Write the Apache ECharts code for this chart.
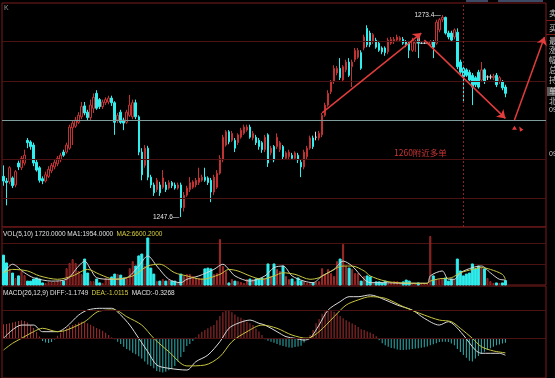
<!DOCTYPE html>
<html>
<head>
<meta charset="utf-8">
<script src="https://cdn.jsdelivr.net/npm/echarts/dist/echarts.min.js"></script>
<style>
  html, body { margin: 0; padding: 0; background: #000; }
  #chart { width: 555px; height: 378px; }
</style>
</head>
<body>
<div id="chart"></div>
<script>
// empty slots after the last bar leave room for the drawn arrows
const slotCount = 181;
const categories = Array.from({ length: slotCount }, (_, i) => 'T' + i);

// [open, close, low, high]
const candles = [
  [1252.8,1252.2,1251.6,1254.2],[1252.2,1252.0,1249.1,1252.6],[1252.1,1253.9,1251.8,1254.1],[1252.6,1251.6,1251.3,1252.8],
  [1251.7,1253.4,1251.4,1253.6],[1254.5,1254.0,1253.6,1254.8],[1253.9,1255.1,1253.6,1255.4],[1254.5,1255.5,1254.2,1256.2],
  [1257.4,1257.1,1256.4,1257.7],[1257.2,1256.6,1256.2,1257.4],[1256.8,1254.5,1254.1,1257.1],[1254.6,1253.6,1253.4,1254.9],
  [1253.9,1252.3,1252.0,1254.1],[1252.5,1252.2,1251.8,1252.8],[1252.2,1253.0,1252.0,1253.4],[1252.8,1253.7,1252.6,1254.1],
  [1253.5,1254.2,1253.2,1254.5],[1254.0,1254.6,1253.7,1255.0],[1254.4,1255.1,1254.1,1255.4],[1254.9,1255.5,1254.6,1255.8],
  [1255.9,1255.5,1255.3,1256.2],[1255.9,1256.8,1255.7,1257.1],[1256.4,1259.1,1256.2,1259.4],[1259.0,1259.6,1256.8,1259.9],
  [1259.2,1260.0,1259.0,1260.4],[1259.7,1260.6,1259.5,1261.0],[1260.4,1261.7,1260.1,1262.3],[1261.8,1260.9,1260.6,1262.3],
  [1261.0,1260.3,1260.0,1261.3],[1260.3,1261.9,1260.0,1262.6],[1261.5,1262.9,1260.9,1263.4],[1263.4,1261.5,1261.3,1263.8],
  [1262.6,1261.7,1261.4,1262.8],[1261.7,1262.3,1261.4,1262.6],[1262.2,1262.6,1261.9,1262.9],[1262.3,1262.8,1262.0,1263.1],
  [1262.8,1262.2,1261.8,1263.1],[1262.2,1259.7,1258.1,1262.4],[1260.0,1260.6,1259.6,1260.9],[1261.0,1259.7,1259.5,1261.3],
  [1260.0,1259.6,1258.7,1260.3],[1259.7,1261.0,1259.5,1261.3],[1260.6,1261.9,1260.4,1263.2],[1260.4,1262.2,1260.1,1262.6],
  [1262.2,1260.4,1260.1,1262.6],[1260.4,1255.9,1255.5,1260.6],[1255.9,1253.0,1252.3,1256.4],[1254.2,1256.4,1253.9,1256.8],
  [1256.4,1252.7,1252.3,1256.7],[1252.7,1251.7,1251.3,1253.0],[1251.7,1250.7,1250.3,1252.0],[1251.1,1252.3,1250.8,1252.6],
  [1251.7,1250.7,1250.3,1252.1],[1251.4,1252.6,1251.2,1253.6],[1251.7,1251.1,1250.8,1252.1],[1251.3,1252.0,1251.1,1252.3],
  [1252.0,1251.6,1251.3,1252.2],[1251.7,1251.3,1251.1,1252.0],[1251.3,1251.7,1251.1,1252.0],[1251.7,1248.8,1247.6,1252.0],
  [1248.8,1250.4,1248.3,1250.8],[1250.4,1251.3,1250.2,1251.6],[1251.1,1252.0,1250.8,1252.7],[1251.4,1252.1,1251.2,1252.3],
  [1251.7,1252.3,1251.4,1252.6],[1252.0,1252.6,1251.7,1253.9],[1252.3,1252.7,1252.1,1253.0],[1252.7,1252.3,1252.1,1253.9],
  [1252.6,1252.0,1251.7,1252.8],[1252.3,1250.8,1249.5,1252.6],[1250.8,1252.7,1250.4,1253.0],[1251.4,1253.2,1251.2,1253.6],
  [1253.2,1255.1,1253.0,1255.5],[1254.9,1257.8,1254.6,1258.1],[1256.8,1258.5,1256.6,1258.7],[1258.5,1257.2,1256.9,1258.7],
  [1257.4,1258.3,1257.2,1258.6],[1257.4,1256.4,1255.9,1257.7],[1257.1,1258.1,1256.8,1258.3],[1257.8,1258.7,1257.6,1259.0],
  [1258.3,1259.1,1258.1,1259.4],[1258.7,1259.1,1258.5,1259.4],[1259.1,1257.8,1257.6,1259.4],[1257.7,1258.3,1257.4,1258.6],
  [1257.8,1257.1,1256.8,1258.1],[1257.4,1256.6,1256.2,1257.7],[1257.1,1256.2,1255.8,1257.3],[1256.2,1257.8,1255.9,1258.1],
  [1258.1,1254.5,1254.0,1258.3],[1255.8,1256.4,1255.5,1256.7],[1256.6,1254.9,1254.6,1256.8],[1256.6,1257.8,1256.3,1258.3],
  [1256.2,1257.1,1255.9,1257.3],[1256.6,1255.3,1254.9,1256.8],[1255.1,1255.8,1254.9,1256.0],[1255.3,1255.9,1255.0,1256.2],
  [1255.5,1255.1,1254.9,1255.8],[1255.1,1255.8,1254.9,1256.0],[1255.5,1254.9,1254.5,1255.8],[1254.6,1254.0,1252.7,1254.9],
  [1254.0,1255.9,1253.7,1256.2],[1255.3,1256.4,1255.0,1256.7],[1256.4,1257.7,1256.2,1258.0],[1257.7,1256.6,1256.3,1258.0],
  [1257.8,1257.8,1257.4,1258.5],[1257.7,1258.3,1257.4,1258.6],[1258.1,1260.6,1257.8,1260.9],[1260.6,1261.9,1260.4,1262.2],
  [1261.9,1263.4,1261.7,1263.8],[1263.6,1264.9,1263.3,1265.1],[1264.9,1266.6,1264.6,1267.0],[1266.0,1266.6,1265.7,1266.9],
  [1266.6,1265.4,1265.1,1267.9],[1265.1,1266.8,1264.9,1267.0],[1266.4,1267.4,1266.1,1267.7],[1267.4,1265.7,1265.5,1267.9],
  [1266.8,1267.4,1264.2,1267.7],[1267.7,1268.9,1267.4,1269.2],[1268.0,1268.9,1267.8,1269.2],[1268.6,1266.6,1266.4,1268.9],
  [1269.2,1270.6,1268.9,1270.9],[1271.7,1269.6,1269.3,1272.1],[1271.1,1269.6,1269.3,1271.4],[1270.0,1270.9,1269.7,1271.1],
  [1270.2,1269.3,1269.1,1270.5],[1269.8,1268.9,1268.7,1270.1],[1269.2,1268.7,1268.4,1269.4],[1269.2,1268.6,1268.2,1269.4],
  [1268.7,1270.2,1268.4,1270.5],[1269.8,1270.3,1269.6,1270.6],[1270.0,1270.3,1269.7,1270.6],[1270.2,1270.6,1270.0,1270.9],
  [1270.2,1270.5,1270.0,1270.7],[1270.3,1269.8,1269.6,1270.6],[1270.0,1269.6,1269.3,1270.2],[1269.8,1268.9,1267.9,1270.1],
  [1268.9,1270.2,1268.7,1270.5],[1269.8,1270.0,1268.7,1270.2],[1270.6,1269.8,1267.9,1270.9],[1269.8,1269.8,1269.7,1269.9],
  [1269.8,1269.8,1269.7,1269.9],[1269.8,1269.8,1269.7,1269.9],[1269.6,1270.0,1269.3,1270.2],[1270.0,1269.3,1267.9,1270.2],
  [1269.8,1272.5,1269.6,1272.8],[1271.5,1272.8,1271.2,1273.0],[1272.8,1273.1,1272.5,1273.4],[1273.1,1271.1,1270.9,1273.2],
  [1271.1,1270.6,1270.3,1271.4],[1271.1,1270.2,1270.0,1271.4],[1270.6,1271.5,1270.3,1271.7],[1271.2,1266.8,1266.5,1271.7],
  [1267.4,1266.1,1265.9,1267.7],[1266.6,1265.5,1262.2,1266.9],[1266.4,1265.7,1265.5,1266.6],[1266.1,1265.1,1264.9,1266.4],
  [1265.7,1264.2,1261.9,1266.0],[1265.4,1264.5,1264.2,1265.6],[1266.1,1264.2,1264.0,1266.4],[1265.1,1266.4,1264.9,1267.4],
  [1266.4,1264.9,1264.6,1266.6],[1265.5,1265.5,1265.1,1265.7],[1265.5,1265.5,1265.2,1265.8],[1265.4,1265.6,1265.1,1265.9],
  [1265.7,1264.5,1264.2,1266.0],[1264.9,1265.4,1264.6,1265.6],[1264.9,1264.1,1263.8,1265.1],[1264.2,1263.4,1262.9,1264.5]
];

const volumes = [
  11500,8500,6200,4600,2700,3500,5400,3800,1500,1500,
  2300,2700,2300,800,800,1200,1200,1200,1500,1500,
  1500,6500,8500,10000,8500,5400,4200,10000,4600,1500,
  1500,2300,800,800,2700,2300,3100,4200,4200,3800,
  2700,2700,6500,9200,7300,11200,11900,7300,18100,6500,
  4200,1500,1500,2300,1500,1900,1500,1500,1200,4200,
  3500,4200,4200,3500,2700,2700,2700,6200,6500,6200,
  4200,4600,17700,7300,5400,800,2300,1500,1500,1200,
  800,2300,2300,2300,2300,2300,2700,2700,8100,3500,
  8100,6200,5400,7300,3500,2300,2300,1500,2700,1500,
  1500,800,800,800,1200,1500,6500,4200,6200,4600,
  3500,9200,10000,15800,7300,6500,6200,4600,4600,1500,
  3500,3500,3100,800,1200,1200,800,1500,800,1200,
  1500,1500,800,1200,1900,1500,800,800,800,400,
  400,400,18900,3500,2300,2300,2700,2700,1500,2300,
  2300,10000,5400,3500,4200,4600,8100,6200,7300,6500,
  6200,2700,1500,800,800,800,800,1720
];

// [bar index, value]
const volMa1 = [[0,4700],[3,8000],[7,4700],[10,2800],[16,1500],[21,2200],[25,7300],[27,9200],[29,6000],[31,2800],
  [36,2200],[41,2800],[45,7300],[48,11200],[51,7300],[55,2200],[59,900],[61,2200],[65,3500],[70,6000],[73,8000],
  [75,6000],[77,3500],[82,1500],[87,3500],[90,6700],[93,7300],[96,3500],[100,1500],[103,900],[106,3500],[110,6000],
  [113,9200],[116,7300],[120,2200],[122,900],[126,900],[133,650],[141,650],[142,3500],[146,5400],[148,2200],
  [150,2200],[152,4700],[156,6700],[159,7300],[162,4700],[165,2200],[167,1954]];
const volMa2 = [[0,4700],[3,6000],[8,5400],[12,3500],[18,2200],[23,3500],[28,6000],[32,4100],[37,2200],[43,3500],
  [48,7300],[52,8000],[57,4700],[61,3500],[66,2200],[72,4100],[75,6000],[78,5400],[82,3500],[86,2200],[90,3500],
  [93,4700],[97,4100],[102,2200],[105,2800],[108,4700],[113,7300],[116,7300],[120,5400],[122,3500],[127,1500],
  [131,900],[141,650],[142,1500],[145,2400],[149,2800],[152,4700],[156,6000],[159,6700],[162,6000],[166,4100],[167,2200]];

const macdHist = [
  0.93,0.95,1.0,1.05,1.1,1.15,1.2,1.15,1.05,0.88,
  0.68,0.4,0.1,-0.2,-0.3,-0.34,-0.28,-0.1,0.15,0.35,
  0.5,0.65,0.8,0.88,0.95,1.05,1.11,1.08,1.0,0.9,
  0.8,0.68,0.6,0.5,0.35,0.2,0.05,-0.08,-0.25,-0.4,
  -0.6,-0.75,-0.85,-1.0,-1.1,-1.25,-1.4,-1.6,-1.8,-1.9,
  -2.05,-2.25,-2.3,-2.35,-2.3,-2.2,-2.1,-1.9,-1.6,-1.3,
  -0.95,-0.55,-0.4,-0.2,0.05,0.25,0.43,0.55,0.66,0.78,
  0.88,1.2,1.5,1.75,1.85,1.9,1.75,1.6,1.45,1.38,
  1.25,1.11,1.0,0.88,0.65,0.45,0.2,-0.08,-0.18,-0.25,
  -0.33,-0.4,-0.5,-0.55,-0.59,-0.64,-0.66,-0.62,-0.58,-0.52,
  -0.3,0.05,0.2,0.55,1.0,1.3,1.65,1.8,1.9,1.85,
  1.78,1.68,1.5,1.34,1.2,1.11,0.98,0.88,0.75,0.6,
  0.54,0.45,0.38,0.28,0.12,-0.15,-0.35,-0.5,-0.6,-0.68,
  -0.72,-0.78,-0.82,-0.82,-0.8,-0.78,-0.75,-0.72,-0.7,-0.66,
  -0.63,-0.58,-0.5,-0.42,-0.35,-0.28,-0.25,-0.25,-0.28,-0.38,
  -0.5,-0.75,-0.95,-1.15,-1.35,-1.55,-1.6,-1.4,-1.22,-1.08,
  -0.93,-0.82,-0.7,-0.6,-0.5,-0.44,-0.38,-0.33
];
const diffLine = [[0,-0.02],[6,0.88],[10,0.88],[13,0.43],[18,0.43],[21,0.77],[25,1.56],[28,1.9],[32,2.02],[36,2.02],
  [39,1.56],[42,0.88],[45,-0.02],[48,-0.93],[51,-1.84],[55,-2.06],[61,-2.18],[64,-1.61],[68,-1.16],[72,-0.25],
  [75,0.66],[78,1.0],[82,1.22],[85,1.0],[87,0.88],[91,0.43],[94,0.09],[97,-0.02],[100,-0.14],[102,-0.02],[105,0.88],
  [108,1.9],[112,2.47],[115,2.81],[118,2.81],[122,2.93],[127,2.59],[131,2.24],[136,1.9],[140,1.34],[145,0.88],
  [148,1.11],[150,0.88],[153,0.2],[157,-0.82],[159,-1.04],[165,-1.04],[167,-1.17]];
const deaLine = [[0,-0.82],[3,-0.36],[6,-0.02],[10,0.43],[13,0.66],[18,0.43],[21,0.54],[27,1.11],[32,1.84],[37,1.9],
  [41,1.45],[46,0.88],[50,-0.02],[55,-0.93],[61,-1.9],[67,-1.84],[72,-1.27],[76,-0.25],[81,0.43],[86,0.88],[91,0.66],
  [96,0.2],[101,-0.02],[105,0.43],[110,1.45],[114,2.24],[118,2.59],[122,2.81],[127,2.7],[133,2.13],[140,1.56],
  [145,1.22],[149,1.11],[152,0.66],[156,-0.02],[159,-0.59],[163,-0.88],[167,-1.01]];

const priceGrid = [1250, 1255, 1265, 1270];
const keyPrice = 1260;
const markIndex = 153;

const UP = '#c23232';
const DOWN = '#30eeee';
const GRID_LINE = '#4a1212';
const BORDER = '#7c1a1a';
const ARROW = '#e23c3c';
const FONT = 'Liberation Sans';

const chart = echarts.init(document.getElementById('chart'));

const volData = volumes.map((v, i) => {
  const up = candles[i][1] >= candles[i][0];
  return {
    value: v,
    itemStyle: up ? { color: '#000', borderColor: '#a82c2a', borderWidth: 1 } : { color: DOWN, borderColor: DOWN }
  };
});
const histData = macdHist.map(v => ({
  value: v,
  itemStyle: { color: v >= 0 ? '#a83030' : '#2fb0b0' }
}));

const hiddenX = (gi) => ({
  type: 'category', gridIndex: gi, data: categories, boundaryGap: true,
  axisLine: { show: false }, axisTick: { show: false }, axisLabel: { show: false }, splitLine: { show: false }
});
const arrow = (a, b) => [
  { coord: a, symbol: 'none' },
  { coord: b, symbol: 'arrow', symbolSize: 8 }
];

chart.setOption({
  backgroundColor: '#000',
  animation: false,
  grid: [
    { left: 2, right: 9, top: 3, height: 224, show: true, borderColor: BORDER, borderWidth: 1 },
    { left: 2, right: 9, top: 227, height: 58, show: true, borderColor: BORDER, borderWidth: 1 },
    { left: 2, right: 9, top: 286, height: 92, show: true, borderColor: BORDER, borderWidth: 1 }
  ],
  xAxis: [hiddenX(0), hiddenX(1), hiddenX(2)],
  yAxis: [
    { type: 'value', gridIndex: 0, min: 1246.33, max: 1274.94, show: false },
    { type: 'value', gridIndex: 1, min: 0, max: 22330, interval: 8085,
      axisLine: { show: false }, axisTick: { show: false }, axisLabel: { show: false },
      splitLine: { show: true, lineStyle: { color: GRID_LINE, width: 1 } } },
    { type: 'value', gridIndex: 2, min: -2.721, max: 3.537, show: false }
  ],
  series: [
    {
      type: 'candlestick', xAxisIndex: 0, yAxisIndex: 0, data: candles, barWidth: 2,
      itemStyle: { color: '#000', color0: DOWN, borderColor: UP, borderColor0: DOWN, borderColorDoji: '#d8d8d8', borderWidth: 1 },
      markLine: {
        silent: true, symbol: ['none', 'none'], label: { show: false },
        lineStyle: { color: GRID_LINE, type: 'solid', width: 1 },
        data: [
          ...priceGrid.map(p => ({ yAxis: p })),
          { yAxis: keyPrice, lineStyle: { color: '#7f9c9c', type: 'solid', width: 1 } },
          { xAxis: markIndex, lineStyle: { color: '#8e1e1e', type: [2, 2], width: 1 } },
          arrow([106, 1260.9], [139, 1271.1]),
          arrow([140, 1270.2], [167, 1260.2]),
          arrow([170, 1260.0], [180, 1270.6])
        ].map(d => Array.isArray(d)
          ? d.map(e => Object.assign(e, { lineStyle: { color: ARROW, width: 1.5, type: 'solid' } }))
          : d)
      },
      markPoint: {
        symbol: 'rect', symbolSize: 1, itemStyle: { color: 'rgba(0,0,0,0)' },
        label: { show: true, position: 'left', distance: 1, color: '#e6e6e6', fontSize: 6.5, fontFamily: FONT,
          formatter: p => (typeof p.value === 'number' ? p.value.toFixed(1) : p.value) + '—' },
        data: [
          { type: 'max', valueDim: 'highest' },
          { type: 'min', valueDim: 'lowest' },
          { coord: [170, 1259.0], symbol: 'triangle', symbolSize: [5, 4], itemStyle: { color: ARROW }, label: { show: false } },
          { coord: [172, 1258.9], symbol: 'triangle', symbolRotate: 30, symbolSize: [4, 5], itemStyle: { color: ARROW }, label: { show: false } }
        ]
      }
    },
    { type: 'bar', xAxisIndex: 1, yAxisIndex: 1, data: volData, barWidth: 2 },
    { type: 'line', xAxisIndex: 1, yAxisIndex: 1, data: volMa1, showSymbol: false, smooth: 0.3,
      lineStyle: { color: '#d6d6d6', width: 1 } },
    { type: 'line', xAxisIndex: 1, yAxisIndex: 1, data: volMa2, showSymbol: false, smooth: 0.3,
      lineStyle: { color: '#c8c640', width: 1 } },
    {
      type: 'bar', xAxisIndex: 2, yAxisIndex: 2, data: histData, barWidth: 1,
      markLine: {
        silent: true, symbol: ['none', 'none'], label: { show: false },
        lineStyle: { color: GRID_LINE, type: 'solid', width: 1 },
        data: [{ yAxis: 1.905 }, { yAxis: 0 }]
      }
    },
    { type: 'line', xAxisIndex: 2, yAxisIndex: 2, data: diffLine, showSymbol: false, smooth: 0.3,
      lineStyle: { color: '#dcdcdc', width: 1 } },
    { type: 'line', xAxisIndex: 2, yAxisIndex: 2, data: deaLine, showSymbol: false, smooth: 0.3,
      lineStyle: { color: '#c8c640', width: 1 } }
  ],
  graphic: [
    { type: 'text', left: 4, top: 5, style: { text: 'K', fill: '#9a9a9a', font: '7px ' + FONT } },
    { type: 'text', left: 3, top: 228, style: {
      text: '{w|VOL(5,10) 1720.0000 MA1:1954.0000} {y|MA2:6600.2000}',
      rich: { w: { fill: '#e0e0e0', fontSize: 6.5, fontFamily: FONT }, y: { fill: '#d8d040', fontSize: 6.5, fontFamily: FONT } }
    } },
    { type: 'text', left: 3, top: 287, style: {
      text: '{w|MACD(26,12,9) DIFF:-1.1749} {y|DEA:-1.0115} {w|MACD:-0.3268}',
      rich: { w: { fill: '#e0e0e0', fontSize: 6.5, fontFamily: FONT }, y: { fill: '#d8d040', fontSize: 6.5, fontFamily: FONT } }
    } },
    { type: 'text', left: 394, top: 149, style: { text: '1260附近多单', fill: '#c93434', font: '8.5px "Noto Sans CJK SC"' } },
    { type: 'rect', shape: { x: 466, y: 0, width: 22, height: 2 }, style: { fill: '#3c4a66' } },
    { type: 'rect', shape: { x: 498, y: 0, width: 45, height: 2 }, style: { fill: '#3c4a66' } },
    { type: 'rect', shape: { x: 547, y: 87, width: 8, height: 9 }, style: { fill: '#5a5a5a' } },
    { type: 'line', shape: { x1: 546, y1: 20.5, x2: 555, y2: 20.5 }, style: { stroke: BORDER } },
    { type: 'line', shape: { x1: 546, y1: 34.5, x2: 555, y2: 34.5 }, style: { stroke: BORDER } },
    ...[['卖', 9], ['买', 24], ['最', 37], ['涨', 46], ['幅', 56], ['总', 66], ['持', 76], ['单', 87], ['北', 97]].map(([t, y]) => ({
      type: 'text', left: 549, top: y, style: { text: t, fill: '#c8c8c8', font: '8px "Noto Sans CJK SC"' }
    })),
    { type: 'text', left: 549, top: 107, style: { text: '09', fill: '#c8c8c8', font: '7px ' + FONT } },
    { type: 'text', left: 549, top: 151, style: { text: '09', fill: '#c8c8c8', font: '7px ' + FONT } }
  ]
});
</script>
</body>
</html>
